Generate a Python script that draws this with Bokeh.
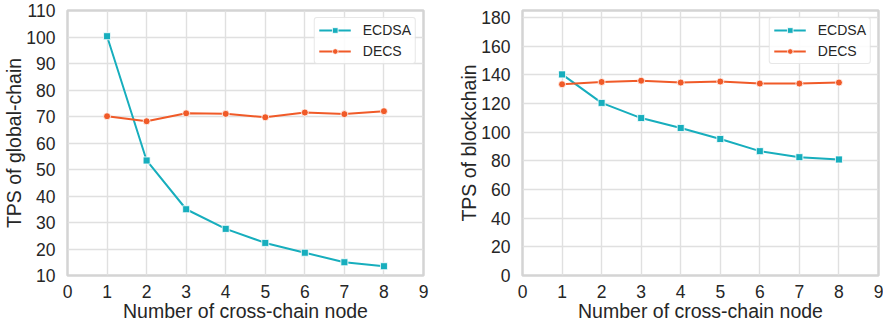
from bokeh.plotting import figure
from bokeh.layouts import row
from bokeh.models import ColumnDataSource, Legend, LegendItem, FixedTicker, Range1d
from bokeh.embed import file_html
from bokeh.resources import INLINE

# ---- data ----
nodes = [1, 2, 3, 4, 5, 6, 7, 8]
global_ecdsa = [100.3, 53.4, 35.0, 27.6, 22.3, 18.6, 15.0, 13.5]
global_decs = [70.1, 68.2, 71.2, 71.0, 69.7, 71.5, 70.9, 72.0]
block_ecdsa = [140.4, 120.5, 109.9, 103.0, 95.3, 86.8, 82.6, 81.0]
block_decs = [133.5, 135.1, 136.0, 134.7, 135.4, 134.0, 134.0, 134.7]

x_ticks = [0, 1, 2, 3, 4, 5, 6, 7, 8, 9]
left_y_ticks = [10, 20, 30, 40, 50, 60, 70, 80, 90, 100, 110]
right_y_ticks = [0, 20, 40, 60, 80, 100, 120, 140, 160, 180]

TEAL = "#17aebd"
ORANGE = "#f05a28"
FONT = "Liberation Sans"
TXT = "#262626"


def make_plot(ecdsa, decs, ylabel, yr, yticks, width, height, mbl, mbr):
    p = figure(width=width, height=height, output_backend="svg", toolbar_location=None,
               x_range=Range1d(0, 9), y_range=Range1d(*yr),
               min_border_left=mbl, min_border_right=mbr, min_border_top=10, min_border_bottom=51)
    p.background_fill_color = "white"
    p.border_fill_color = "white"
    p.outline_line_color = "#d4d4d4"
    p.outline_line_width = 2.5

    for ax in (p.xaxis[0], p.yaxis[0]):
        ax.axis_line_color = None
        ax.major_tick_line_color = None
        ax.minor_tick_line_color = None
        ax.major_label_text_font = FONT
        ax.major_label_text_font_size = "17.5px"
        ax.major_label_text_color = TXT
        ax.axis_label_text_font = FONT
        ax.axis_label_text_font_size = "19.5px"
        ax.axis_label_text_font_style = "normal"
        ax.axis_label_text_color = TXT
    p.xaxis[0].ticker = FixedTicker(ticks=x_ticks)
    p.yaxis[0].ticker = FixedTicker(ticks=yticks)
    p.xaxis[0].axis_label = "Number of cross-chain node"
    p.yaxis[0].axis_label = ylabel
    p.xaxis[0].major_label_standoff = 3
    p.xaxis[0].axis_label_standoff = -1
    p.yaxis[0].major_label_standoff = 6
    p.yaxis[0].axis_label_standoff = -2

    p.grid.grid_line_color = "#e0e0e0"
    p.grid.grid_line_width = 1.4

    src_e = ColumnDataSource(dict(x=nodes, y=ecdsa))
    src_d = ColumnDataSource(dict(x=nodes, y=decs))
    le = p.line("x", "y", source=src_e, color=TEAL, line_width=2)
    se = p.scatter("x", "y", source=src_e, marker="square", size=7, fill_color=TEAL,
                   line_color="white", line_width=0.8)
    ld = p.line("x", "y", source=src_d, color=ORANGE, line_width=2)
    sd = p.scatter("x", "y", source=src_d, marker="circle", size=7, fill_color=ORANGE,
                   line_color="white", line_width=0.8)

    legend = Legend(items=[LegendItem(label="ECDSA", renderers=[le, se]),
                           LegendItem(label="DECS", renderers=[ld, sd])],
                    location="top_right")
    legend.label_text_font = FONT
    legend.label_text_font_size = "14px"
    legend.label_text_color = TXT
    legend.glyph_width = 32
    legend.glyph_height = 14
    legend.label_height = 14
    legend.label_standoff = 12
    legend.padding = 4
    legend.spacing = 5
    legend.margin = 7
    legend.border_line_color = "#d0d0d0"
    legend.border_line_width = 1
    legend.border_radius = 3
    legend.background_fill_color = "white"
    legend.background_fill_alpha = 0.85
    p.add_layout(legend, "center")
    return p


p1 = make_plot(global_ecdsa, global_decs, "TPS of global-chain", (10, 110), left_y_ticks,
               width=440, height=326, mbl=66, mbr=17)
p2 = make_plot(block_ecdsa, block_decs, "TPS of blockchain", (0, 185), right_y_ticks,
               width=443, height=326, mbl=82, mbr=5)

layout = row(p1, p2)
open("out.html", "w").write(file_html(layout, INLINE))
